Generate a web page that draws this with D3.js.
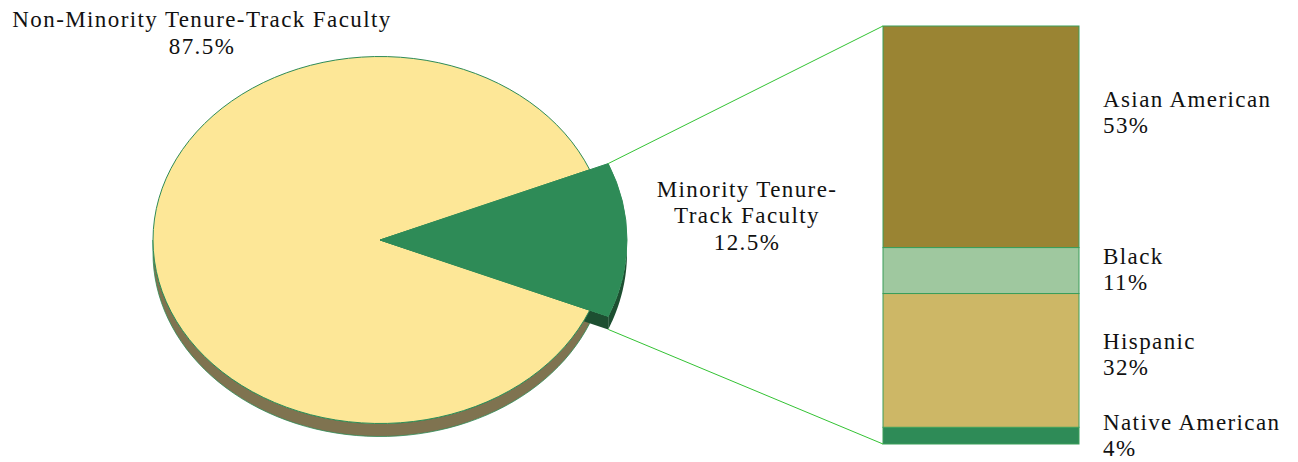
<!DOCTYPE html>
<html>
<head>
<meta charset="utf-8">
<script src="https://cdn.jsdelivr.net/npm/d3@7"></script>
<style>
  body { margin: 0; background: #fff; }
  text { font-family: 'Palatino Linotype', 'Book Antiqua', Palatino, 'Liberation Serif', serif; font-size: 23px; letter-spacing: 1.4px; fill: #111; }
</style>
</head>
<body>
<svg id="chart" width="1298" height="462"></svg>
<script>
// pie data
const pieLabels = ['Non-Minority Tenure-Track Faculty', 'Minority Tenure-Track Faculty'];
const pieValues = [87.5, 12.5];
const pieColors = ['#fde797', '#2e8b57'];
const pieSideColors = ['#7f7350', '#1d4f31'];

// breakdown of the minority slice (bottom to top in the bar)
const barCategories = ['Native American', 'Hispanic', 'Black', 'Asian American'];
const barValues = [4, 32, 11, 53];
const barColors = ['#2e8b57', '#cdb766', '#9fc89f', '#9a8433'];

const svg = d3.select('#chart');

const cx = 380, cy = 240;
const rx = 227, ry = 183.5;      // main ellipse
const grx = 247, gry = grx * ry / rx;  // pulled-out slice
const depth = 13;

const pie = d3.pie().sort(null)
  .startAngle(-247.5 * Math.PI / 180)
  .endAngle(112.5 * Math.PI / 180);
const slices = pie(pieValues);

const rim = (a, w, h) => [cx + w * Math.sin(a), cy - h * Math.cos(a)];

// outer wall of a slice between two angles
function wall(a0, a1, w, h) {
  const steps = d3.range(0, 61).map(i => a0 + (a1 - a0) * i / 60);
  const top = steps.map(a => rim(a, w, h));
  const bottom = steps.slice().reverse().map(a => { const p = rim(a, w, h); return [p[0], p[1] + depth]; });
  return d3.line()(top.concat(bottom)) + 'Z';
}

const big = slices[0], small = slices[1];

// sides first
svg.append('path')
  .attr('d', wall(small.endAngle, Math.PI * 1.5, rx, ry))
  .attr('fill', pieSideColors[0]).attr('stroke', '#2e8b57').attr('stroke-width', 0.8);

const gc = rim(small.endAngle, grx, gry);
svg.append('path')
  .attr('d', d3.line()([[cx, cy], gc, [gc[0], gc[1] + depth], [cx, cy + depth]]) + 'Z')
  .attr('fill', pieSideColors[1]);

svg.append('path')
  .attr('d', wall(Math.PI / 2, small.endAngle, grx, gry))
  .attr('fill', pieSideColors[1]);

// top faces
const arcBig = d3.arc().innerRadius(0).outerRadius(rx);
svg.append('path')
  .attr('transform', `translate(${cx},${cy}) scale(1,${ry / rx})`)
  .attr('d', arcBig(big))
  .attr('fill', pieColors[0])
  .attr('stroke', '#2e8b57').attr('stroke-width', 1)
  .attr('vector-effect', 'non-scaling-stroke');

const arcSmall = d3.arc().innerRadius(0).outerRadius(grx);
svg.append('path')
  .attr('transform', `translate(${cx},${cy}) scale(1,${gry / grx})`)
  .attr('d', arcSmall(small))
  .attr('fill', pieColors[1])
  .attr('stroke', pieColors[1]).attr('stroke-width', 1)
  .attr('vector-effect', 'non-scaling-stroke');

// bar of pie
const barX = 883, barW = 196;
const y = d3.scaleLinear().domain([0, d3.sum(barValues)]).range([444, 26]);
const stacked = [];
barValues.reduce((acc, v, i) => { stacked.push({ i, y0: acc, y1: acc + v }); return acc + v; }, 0);

svg.selectAll('rect.seg')
  .data(stacked)
  .enter().append('rect')
  .attr('class', 'seg')
  .attr('x', barX)
  .attr('y', d => y(d.y1))
  .attr('width', barW)
  .attr('height', d => y(d.y0) - y(d.y1))
  .attr('fill', d => barColors[d.i])
  .attr('stroke', '#3a9e5a').attr('stroke-width', 1);

// connector lines
const gTop = rim(small.startAngle, grx, gry);
svg.append('line')
  .attr('x1', gTop[0]).attr('y1', gTop[1])
  .attr('x2', barX).attr('y2', y(d3.sum(barValues)))
  .attr('stroke', '#33c233').attr('stroke-width', 1);
svg.append('line')
  .attr('x1', gc[0]).attr('y1', gc[1] + depth)
  .attr('x2', barX).attr('y2', y(0))
  .attr('stroke', '#33c233').attr('stroke-width', 1);

// bar labels
const labelNudge = [-1, -6, -2, -25];
stacked.forEach(d => {
  const mid = (y(d.y0) + y(d.y1)) / 2 + labelNudge[d.i];
  const t = svg.append('text').attr('x', 1103).attr('y', mid - 5);
  t.append('tspan').attr('x', 1103).text(barCategories[d.i]);
  t.append('tspan').attr('x', 1103).attr('dy', 26).text(barValues[d.i] + '%');
});

// pie labels
const t1 = svg.append('text').attr('text-anchor', 'middle').attr('y', 27);
t1.append('tspan').attr('x', 202).text(pieLabels[0]);
t1.append('tspan').attr('x', 202).attr('dy', 27).text(pieValues[0] + '%');

const t2 = svg.append('text').attr('text-anchor', 'middle').attr('y', 197);
t2.append('tspan').attr('x', 747).text('Minority Tenure-');
t2.append('tspan').attr('x', 747).attr('dy', 26).text('Track Faculty');
t2.append('tspan').attr('x', 747).attr('dy', 27).text(pieValues[1] + '%');
</script>
</body>
</html>
